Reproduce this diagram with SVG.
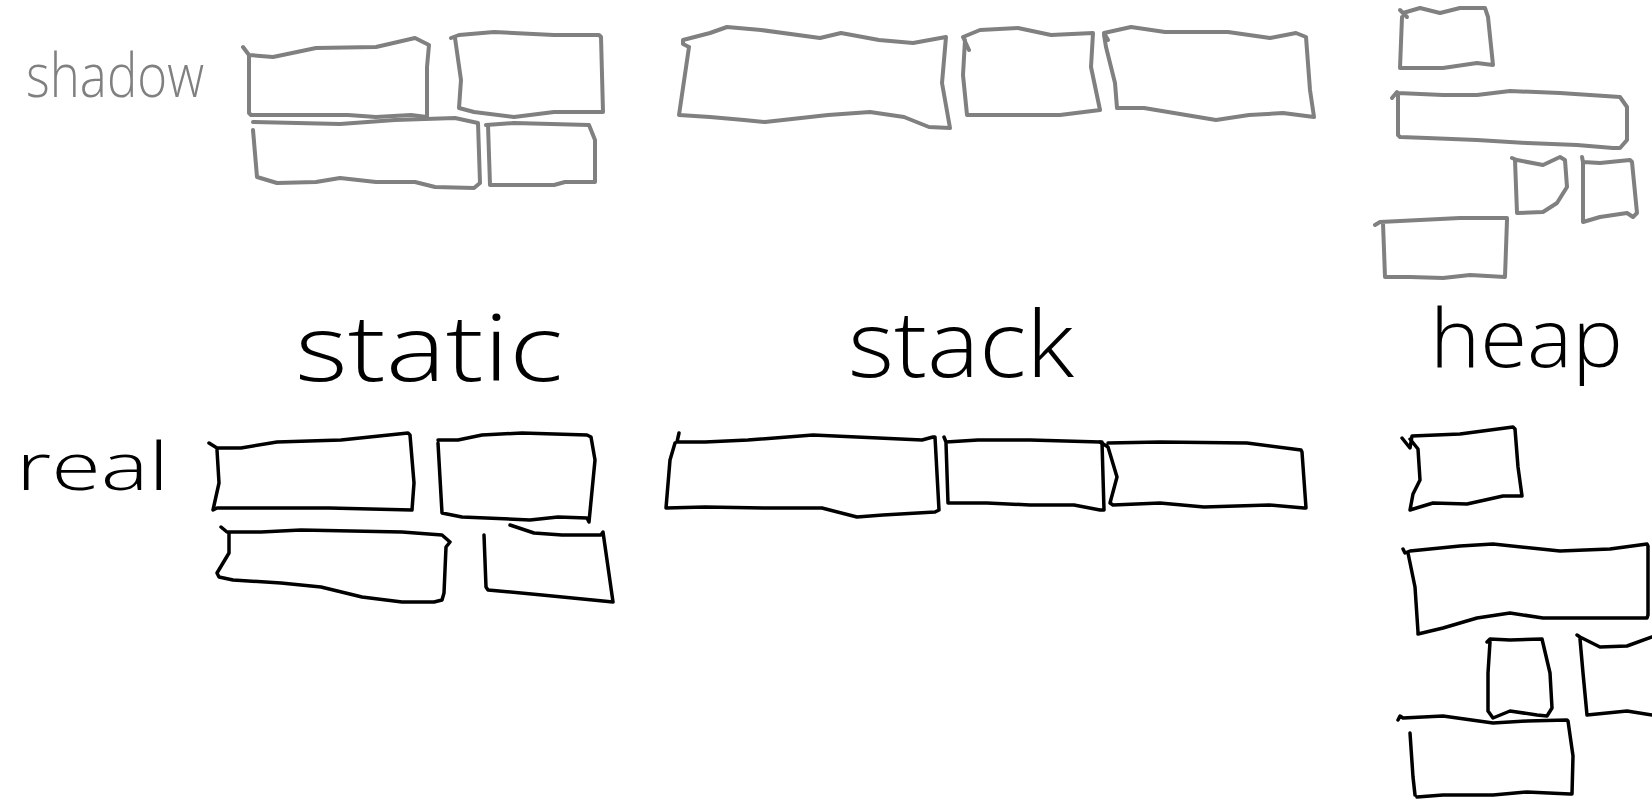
<svg xmlns="http://www.w3.org/2000/svg" width="1652" height="800" viewBox="0 0 1652 800">
<style>
.g{fill:none;stroke:#808080;stroke-width:4;stroke-linecap:round;stroke-linejoin:round}
.k{fill:none;stroke:#000;stroke-width:3.5;stroke-linecap:round;stroke-linejoin:round}
.tg{fill:#808080;font-family:"Open Sans","Liberation Sans",sans-serif;font-weight:300}
.tk{fill:#000;font-family:"Open Sans","Liberation Sans",sans-serif;font-weight:300}
</style>
<rect width="1652" height="800" fill="#fff"/>
<g id="label-shadow"><text class="tg" x="26" y="97" font-size="60" textLength="178" lengthAdjust="spacingAndGlyphs">shadow</text></g>
<g id="label-real"><text class="tk" x="16" y="490" font-size="66" textLength="153" lengthAdjust="spacingAndGlyphs">real</text></g>
<g id="label-static"><text class="tk" x="295" y="381" font-size="92" textLength="268" lengthAdjust="spacingAndGlyphs">static</text></g>
<g id="label-stack"><text class="tk" x="848" y="377" font-size="92" textLength="226" lengthAdjust="spacingAndGlyphs">stack</text></g>
<g id="label-heap"><text class="tk" x="1430" y="367" font-size="82" textLength="193" lengthAdjust="spacingAndGlyphs">heap</text></g>

<g id="shadow-static-1"><path class="g" d="M243,47 L249,55 L273,57 L316,48 L376,47 L415,38 L429,45 L427,67 L427,117 L411,115 L376,117 L348,115 L251,115 L249,113 L249,55"/></g>
<g id="shadow-static-2"><path class="g" d="M451,38 L459,35 L494,32 L554,35 L599,35 L601,37 L603,112 L554,112 L514,117 L474,112 L459,108 L461,80 L455,38"/></g>
<g id="shadow-static-3"><path class="g" d="M253,122 L340,124 L395,120 L455,118 L478,123 L480,183 L474,188 L435,187 L415,182 L376,182 L340,178 L316,182 L277,183 L257,177 L253,130"/></g>
<g id="shadow-static-4"><path class="g" d="M486,125 L514,123 L589,125 L595,140 L595,182 L565,182 L554,185 L490,185 L488,125"/></g>

<g id="shadow-stack-1"><path class="g" d="M689,47 L683,44 L683,40 L710,33 L727,27 L761,30 L820,38 L841,33 L879,40 L913,43 L946,37 L942,83 L950,128 L929,127 L904,117 L870,112 L828,115 L765,122 L744,120 L710,117 L679,115 L689,47"/></g>
<g id="shadow-stack-2"><path class="g" d="M969,50 L963,37 L980,30 L1018,28 L1051,35 L1093,33 L1091,67 L1100,110 L1060,115 L1018,115 L967,115 L963,75 L965,40"/></g>
<g id="shadow-stack-3"><path class="g" d="M1108,40 L1104,33 L1131,27 L1165,32 L1228,32 L1270,38 L1296,33 L1306,37 L1310,90 L1314,117 L1283,113 L1249,115 L1216,120 L1186,115 L1144,108 L1117,108 L1115,83 L1106,47 L1104,35"/></g>

<g id="shadow-heap-1"><path class="g" d="M1400,10 L1407,17 L1403,13 L1420,8 L1440,13 L1460,8 L1485,8 L1488,17 L1493,65 L1477,63 L1443,68 L1400,68 L1402,17"/></g>
<g id="shadow-heap-2"><path class="g" d="M1392,98 L1397,92 L1398,95 L1398,135 L1400,137 L1427,138 L1477,140 L1527,143 L1577,145 L1613,148 L1620,148 L1627,140 L1627,107 L1620,97 L1560,93 L1510,91 L1477,95 L1443,95 L1398,93"/></g>
<g id="shadow-heap-3"><path class="g" d="M1512,158 L1517,160 L1543,165 L1560,157 L1565,160 L1567,187 L1557,203 L1543,212 L1517,213 L1515,160"/></g>
<g id="shadow-heap-4"><path class="g" d="M1582,157 L1583,162 L1600,163 L1630,160 L1632,162 L1637,213 L1633,217 L1627,213 L1600,217 L1583,222 L1583,162"/></g>
<g id="shadow-heap-5"><path class="g" d="M1375,225 L1380,222 L1420,220 L1460,218 L1507,218 L1507,220 L1505,277 L1470,275 L1443,278 L1410,277 L1385,277 L1383,223"/></g>

<g id="real-static-1"><path class="k" d="M209,443 L217,448 L241,448 L277,442 L341,440 L408,433 L410,435 L414,483 L412,510 L329,508 L217,508 L213,510 L219,483 L217,450"/></g>
<g id="real-static-2"><path class="k" d="M438,440 L458,440 L482,435 L522,433 L587,435 L591,437 L595,460 L589,522 L587,518 L558,517 L530,520 L462,517 L442,513 L438,443"/></g>
<g id="real-static-3"><path class="k" d="M221,527 L227,532 L261,532 L301,530 L402,532 L442,535 L450,542 L446,547 L444,593 L442,600 L434,602 L402,602 L362,597 L321,587 L281,583 L233,580 L219,577 L217,573 L229,553 L229,533"/></g>
<g id="real-static-4"><path class="k" d="M510,525 L534,533 L562,535 L601,535 L603,532 L613,602 L542,595 L488,590 L486,587 L484,535"/></g>

<g id="real-stack-1"><path class="k" d="M679,433 L677,442 L705,442 L748,440 L813,435 L922,440 L933,437 L935,437 L939,510 L935,512 L883,515 L857,517 L822,508 L770,508 L705,507 L666,508 L670,460 L675,443"/></g>
<g id="real-stack-2"><path class="k" d="M944,437 L946,442 L978,440 L1030,440 L1100,442 L1102,442 L1104,510 L1100,510 L1074,505 L1030,505 L987,503 L948,503 L946,443"/></g>
<g id="real-stack-3"><path class="k" d="M1100,442 L1108,447 L1117,477 L1110,503 L1113,505 L1160,503 L1204,507 L1269,505 L1304,508 L1306,508 L1302,452 L1301,450 L1247,443 L1160,442 L1108,443"/></g>

<g id="real-heap-1"><path class="k" d="M1402,438 L1410,448 L1412,436 L1460,434 L1513,427 L1515,429 L1518,467 L1522,496 L1503,496 L1467,504 L1433,503 L1410,510 L1413,494 L1420,480 L1418,449 L1410,439"/></g>
<g id="real-heap-2"><path class="k" d="M1403,549 L1405,553 L1410,551 L1460,546 L1493,544 L1560,551 L1610,549 L1647,544 L1648,546 L1648,615 L1647,618 L1593,618 L1543,618 L1510,613 L1477,618 L1443,628 L1418,634 L1418,632 L1415,587 L1408,553"/></g>
<g id="real-heap-3"><path class="k" d="M1487,642 L1490,639 L1510,640 L1542,639 L1550,673 L1552,708 L1547,716 L1537,715 L1510,711 L1493,718 L1488,711 L1488,673 L1490,642"/></g>
<g id="real-heap-4"><path class="k" d="M1577,635 L1580,637 L1600,647 L1627,646 L1652,637 M1580,639 L1583,673 L1587,715 L1627,711 L1652,715"/></g>
<g id="real-heap-5"><path class="k" d="M1398,720 L1400,716 L1403,718 L1443,716 L1493,723 L1527,721 L1567,720 L1568,721 L1573,756 L1572,794 L1570,794 L1527,792 L1493,795 L1443,795 L1417,797 M1410,733 L1413,777 L1415,795"/></g>
</svg>
